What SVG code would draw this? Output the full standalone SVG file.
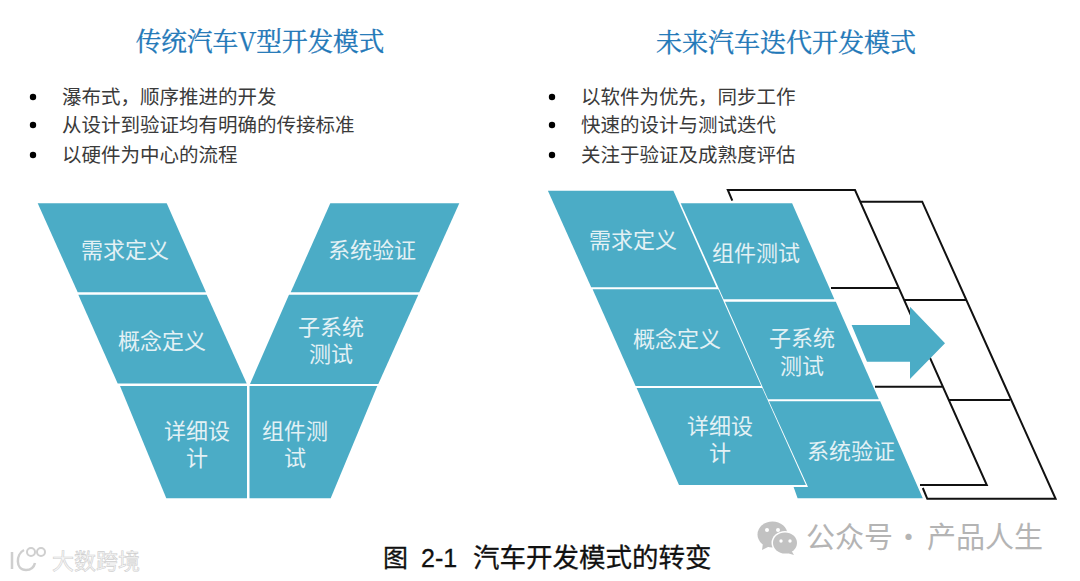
<svg xmlns="http://www.w3.org/2000/svg" width="1080" height="581" viewBox="0 0 1080 581">
<style>
text{font-family:"Noto Sans CJK SC","Liberation Sans",sans-serif}
.p{fill:#4bacc6}
.l{fill:#e3f1f5;font-size:22px;text-anchor:middle}
.t{fill:#1f78b8;stroke:#1f78b8;stroke-width:.35;font-size:26px;text-anchor:middle;font-family:"Noto Serif CJK SC","Noto Sans CJK SC",serif}
.b{fill:#3a3a3a;font-size:19.5px}
.f{fill:none;stroke:#111;stroke-width:2}
.d{fill:#000}
.w{fill:#c2c2c2}
.o{fill:none;stroke:#cfcfcf;stroke-width:2.5}
</style>
<rect width="1080" height="581" fill="#fff"/>
<g id="title-left"><text class="t" x="260" y="51" style="font-size:25.6px">传统汽车V型开发模式</text></g>
<g id="title-right"><text class="t" x="786" y="52">未来汽车迭代开发模式</text></g>
<g id="bullets-left">
<circle class="d" cx="33" cy="97" r="3.2"/><text class="b" x="62" y="104">瀑布式，顺序推进的开发</text>
<circle class="d" cx="33" cy="125" r="3.2"/><text class="b" x="62" y="132">从设计到验证均有明确的传接标准</text>
<circle class="d" cx="33" cy="155" r="3.2"/><text class="b" x="62" y="162">以硬件为中心的流程</text>
</g>
<g id="bullets-right">
<circle class="d" cx="552" cy="97" r="3.2"/><text class="b" x="581" y="104">以软件为优先，同步工作</text>
<circle class="d" cx="552" cy="125" r="3.2"/><text class="b" x="581" y="132">快速的设计与测试迭代</text>
<circle class="d" cx="552" cy="155" r="3.2"/><text class="b" x="581" y="162">关注于验证及成熟度评估</text>
</g>
<g id="v-req"><polygon class="p" points="37.7,203.3 166.7,203.3 206,292.3 77.7,292.3"/><text class="l" x="125" y="258">需求定义</text></g>
<g id="v-concept"><polygon class="p" points="78.3,294.8 206.7,294.8 246.7,383.5 117.7,383.5"/><text class="l" x="162" y="349">概念定义</text></g>
<g id="v-detail"><polygon class="p" points="120,386 247,386 247,498.3 166.3,498.3"/><text class="l" x="197" y="439">详细设<tspan x="197" dy="27">计</tspan></text></g>
<g id="v-comp"><polygon class="p" points="249.5,386 377.3,386 330.7,498.3 249.5,498.3"/><text class="l" x="295" y="439">组件测<tspan x="295" dy="27">试</tspan></text></g>
<g id="v-sub"><polygon class="p" points="250,384 289,294.8 418.3,294.8 378.3,384"/><text class="l" x="331" y="335">子系统<tspan x="331" dy="27">测试</tspan></text></g>
<g id="v-sys"><polygon class="p" points="290.7,292.3 330.3,203.3 459.3,203.3 419.3,292.3"/><text class="l" x="372" y="258">系统验证</text></g>
<g id="connectors">
<polyline class="f" points="732.3,200.7 727.8,190 855,190 986.8,485 920,485"/>
<polyline class="f" points="860,201.7 922.2,201.7 1055.6,498.8 927.3,498.8 922.8,488"/>
<line class="f" x1="831" y1="288" x2="898" y2="288"/>
<line class="f" x1="904" y1="300" x2="966" y2="300"/>
<line class="f" x1="875" y1="386.7" x2="942" y2="386.7"/>
<line class="f" x1="949" y1="400" x2="1010" y2="400"/>
</g>
<g id="f-sys"><polygon class="p" points="769,401.3 880.2,401.3 922.8,498.3 797.6,498.3 793.6,487 808,487"/><text class="l" x="851" y="459">系统验证</text></g>
<g id="f-sub"><polygon class="p" points="725,301.7 835.8,301.7 878.8,399.3 768,399.3"/><text class="l" x="802" y="346">子系统<tspan x="802" dy="28">测试</tspan></text></g>
<g id="f-comp"><polygon class="p" points="680.7,203.3 792.1,203.3 834.4,299.3 723.7,299.3"/><text class="l" x="756" y="261">组件测试</text></g>
<g id="f-req"><polygon class="p" points="547.9,190.7 673.4,190.7 716.4,287.3 591.2,287.3"/><text class="l" x="633" y="248">需求定义</text></g>
<g id="f-concept"><polygon class="p" points="592.6,289.3 718.2,289.3 761.2,386 635.6,386"/><text class="l" x="677" y="347">概念定义</text></g>
<g id="f-detail"><polygon class="p" points="636.6,388 762.2,388 805.9,485 679,485"/><text class="l" x="720" y="434">详细设<tspan x="720" dy="27">计</tspan></text></g>
<g id="arrow"><polygon class="p" points="851.6,325 910,325 910,306.7 945,343.3 910,379 910,361.7 867,361.7"/></g>
<g id="caption"><text x="383" y="567" fill="#111" stroke="#111" stroke-width=".3" font-size="25px">图<tspan x="421" style="font-family:'Liberation Sans',sans-serif">2-1</tspan><tspan x="473" font-size="26.5px">汽车开发模式的转变</tspan></text></g>
<g id="watermark-right">
<ellipse class="w" cx="772.5" cy="534.5" rx="15" ry="13"/><path class="w" d="M763 543l-1 7 8-4z"/>
<circle cx="767" cy="530" r="2" fill="#fff"/><circle cx="778" cy="530" r="2" fill="#fff"/>
<ellipse cx="785" cy="543" rx="13.5" ry="12" fill="#fff"/><ellipse class="w" cx="785" cy="543" rx="12" ry="10.5"/><path class="w" d="M791 550l3 5-7-2z"/>
<circle cx="781" cy="541" r="1.7" fill="#fff"/><circle cx="790" cy="541" r="1.7" fill="#fff"/>
<text x="806" y="548" font-size="29px" fill="#b4b4b4">公众号<tspan x="894">·</tspan><tspan x="927">产品人生</tspan></text></g>
<g id="watermark-left">
<path class="o" d="M12 552v17M24 550c-8 4-9 20 2 20c5 0 8-3 9-7"/>
<circle cx="31" cy="552" r="4" fill="none" stroke="#cfcfcf" stroke-width="2"/><circle cx="41" cy="552" r="4" fill="none" stroke="#cfcfcf" stroke-width="2"/>
<text x="52" y="569" font-size="22px" fill="#f8f8f8" stroke="#cfcfcf" stroke-width=".6">大数跨境</text></g>
</svg>
